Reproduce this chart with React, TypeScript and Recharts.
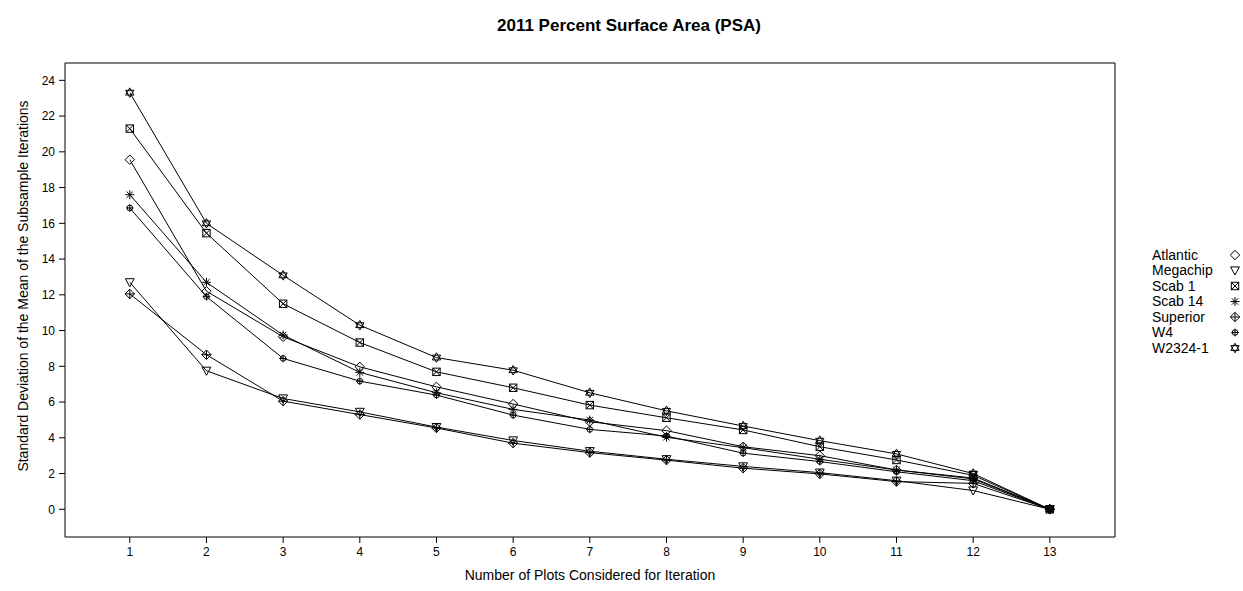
import React, { useLayoutEffect } from 'react';
import { LineChart, Line, XAxis, YAxis } from 'recharts';

const plotsConsidered = [1, 2, 3, 4, 5, 6, 7, 8, 9, 10, 11, 12, 13];
const atlantic = [19.56, 12.2, 9.65, 7.97, 6.85, 5.89, 4.9, 4.4, 3.5, 3.0, 2.2, 1.75, 0];
const megachip = [12.7, 7.75, 6.2, 5.45, 4.6, 3.85, 3.25, 2.8, 2.4, 2.05, 1.6, 1.05, 0];
const scab1 = [21.3, 15.45, 11.5, 9.33, 7.69, 6.8, 5.83, 5.12, 4.44, 3.5, 2.76, 1.9, 0];
const scab14 = [17.6, 12.7, 9.75, 7.66, 6.52, 5.59, 4.99, 4.03, 3.45, 2.8, 2.2, 1.7, 0];
const superior = [12.05, 8.65, 6.05, 5.3, 4.55, 3.7, 3.17, 2.75, 2.3, 1.98, 1.55, 1.45, 0];
const w4 = [16.86, 11.9, 8.44, 7.17, 6.39, 5.27, 4.47, 4.1, 3.14, 2.67, 2.1, 1.6, 0];
const w2324 = [23.31, 16.0, 13.09, 10.3, 8.49, 7.78, 6.52, 5.51, 4.66, 3.84, 3.1, 2.0, 0];

const seriesNames = ['Atlantic', 'Megachip', 'Scab 1', 'Scab 14', 'Superior', 'W4', 'W2324-1'];
const seriesValues = [atlantic, megachip, scab1, scab14, superior, w4, w2324];
const xTicks = [1, 2, 3, 4, 5, 6, 7, 8, 9, 10, 11, 12, 13];
const yTicks = [0, 2, 4, 6, 8, 10, 12, 14, 16, 18, 20, 22, 24];

const titleText = '2011 Percent Surface Area (PSA)';
const xTitle = 'Number of Plots Considered for Iteration';
const yTitle = 'Standard Deviation of the Mean of the Subsample Iterations';

const data = plotsConsidered.map((x, i) => {
  const row: Record<string, number> = { x };
  seriesNames.forEach((n, k) => {
    row[n] = seriesValues[k][i];
  });
  return row;
});

const FONT = '"Liberation Sans", Arial, Helvetica, sans-serif';
const S = '#000';

function marker(name: string, cx: number, cy: number) {
  const common = { fill: 'none', stroke: S, strokeWidth: 1 };
  switch (name) {
    case 'Atlantic': {
      const r = 4.7;
      return <path {...common} d={`M${cx},${cy - r}L${cx + r},${cy}L${cx},${cy + r}L${cx - r},${cy}Z`} />;
    }
    case 'Megachip': {
      return <path {...common} d={`M${cx - 4.4},${cy - 3.6}L${cx + 4.4},${cy - 3.6}L${cx},${cy + 4.5}Z`} />;
    }
    case 'Scab 1': {
      const r = 3.7;
      return (
        <g>
          <rect {...common} x={cx - r} y={cy - r} width={2 * r} height={2 * r} />
          <path {...common} d={`M${cx - r},${cy - r}L${cx + r},${cy + r}M${cx + r},${cy - r}L${cx - r},${cy + r}`} />
        </g>
      );
    }
    case 'Scab 14': {
      const r = 4.5;
      const d = r * 0.72;
      return (
        <path
          {...common}
          d={`M${cx},${cy - r}L${cx},${cy + r}M${cx - r},${cy}L${cx + r},${cy}M${cx - d},${cy - d}L${cx + d},${cy + d}M${cx + d},${cy - d}L${cx - d},${cy + d}`}
        />
      );
    }
    case 'Superior': {
      const r = 4.7;
      return (
        <path
          {...common}
          d={`M${cx},${cy - r}L${cx + r},${cy}L${cx},${cy + r}L${cx - r},${cy}ZM${cx},${cy - r}L${cx},${cy + r}M${cx - r},${cy}L${cx + r},${cy}`}
        />
      );
    }
    case 'W4': {
      const r = 2.8;
      return (
        <g>
          <circle {...common} cx={cx} cy={cy} r={r} />
          <path {...common} d={`M${cx},${cy - r - 1}L${cx},${cy + r + 1}M${cx - r - 1},${cy}L${cx + r + 1},${cy}`} />
        </g>
      );
    }
    default: {
      const r = 4.8;
      const h = r * 0.5;
      const w = r * 0.87;
      return (
        <path
          {...common}
          d={`M${cx},${cy - r}L${cx + w},${cy + h}L${cx - w},${cy + h}ZM${cx},${cy + r}L${cx + w},${cy - h}L${cx - w},${cy - h}Z`}
        />
      );
    }
  }
}

export default function App() {
  useLayoutEffect(() => {
    document.body.style.margin = '0';
    document.body.style.overflow = 'hidden';
  }, []);
  const W = 1243;
  const H = 591;
  const tickStyle = { fontFamily: FONT, fontSize: 12, fill: '#000' };
  return (
    <div style={{ position: 'relative', width: W, height: H, overflow: 'hidden' }}>
      <LineChart width={W} height={H} data={data} margin={{ top: 57, right: 120, bottom: 24, left: 20 }}>
        <XAxis
          dataKey="x"
          type="number"
          domain={[0.155, 13.85]}
          ticks={xTicks}
          allowDataOverflow
          interval={0}
          height={30}
          tickSize={6}
          tickMargin={4}
          tick={tickStyle}
          stroke={S}
          axisLine={{ stroke: S }}
          tickLine={{ stroke: S }}
        />
        <XAxis
          xAxisId="top"
          orientation="top"
          dataKey="x"
          type="number"
          domain={[0.155, 13.85]}
          ticks={xTicks}
          allowDataOverflow
          interval={0}
          height={6}
          tickSize={6}
          tick={false}
          stroke={S}
          axisLine={{ stroke: S }}
          tickLine={{ stroke: S }}
        />
        <YAxis
          type="number"
          domain={[-1.55, 24.97]}
          ticks={yTicks}
          allowDataOverflow
          interval={0}
          width={45}
          tickSize={6}
          tickMargin={4}
          tick={tickStyle}
          stroke={S}
          axisLine={{ stroke: S }}
          tickLine={{ stroke: S }}
        />
        <YAxis
          yAxisId="right"
          orientation="right"
          type="number"
          domain={[-1.55, 24.97]}
          ticks={yTicks}
          allowDataOverflow
          interval={0}
          width={8}
          tickSize={6}
          tick={false}
          stroke={S}
          axisLine={{ stroke: S }}
          tickLine={{ stroke: S }}
        />
        {seriesNames.map((n) => (
          <Line
            key={n}
            dataKey={n}
            type="linear"
            stroke={S}
            strokeWidth={1}
            isAnimationActive={false}
            dot={(p: any) => <g key={`${n}-${p.index}`}>{marker(n, p.cx, p.cy)}</g>}
            activeDot={false}
          />
        ))}
      </LineChart>
      <svg width={W} height={H} style={{ position: 'absolute', left: 0, top: 0, pointerEvents: 'none' }}>
        <text x={629} y={31} textAnchor="middle" fontFamily={FONT} fontSize={17} fontWeight="bold" fill="#000">
          {titleText}
        </text>
        <text x={590} y={580} textAnchor="middle" fontFamily={FONT} fontSize={14} fill="#000">
          {xTitle}
        </text>
        <text
          x={23}
          y={286}
          dy="0.35em"
          textAnchor="middle"
          fontFamily={FONT}
          fontSize={14}
          fill="#000"
          transform="rotate(-90 23 286)"
        >
          {yTitle}
        </text>
        {seriesNames.map((n, i) => {
          const y = 255 + i * 15.5;
          return (
            <g key={n}>
              <text x={1152} y={y} dy="0.35em" fontFamily={FONT} fontSize={14} fill="#000">
                {n}
              </text>
              {marker(n, 1235, y)}
            </g>
          );
        })}
      </svg>
    </div>
  );
}
